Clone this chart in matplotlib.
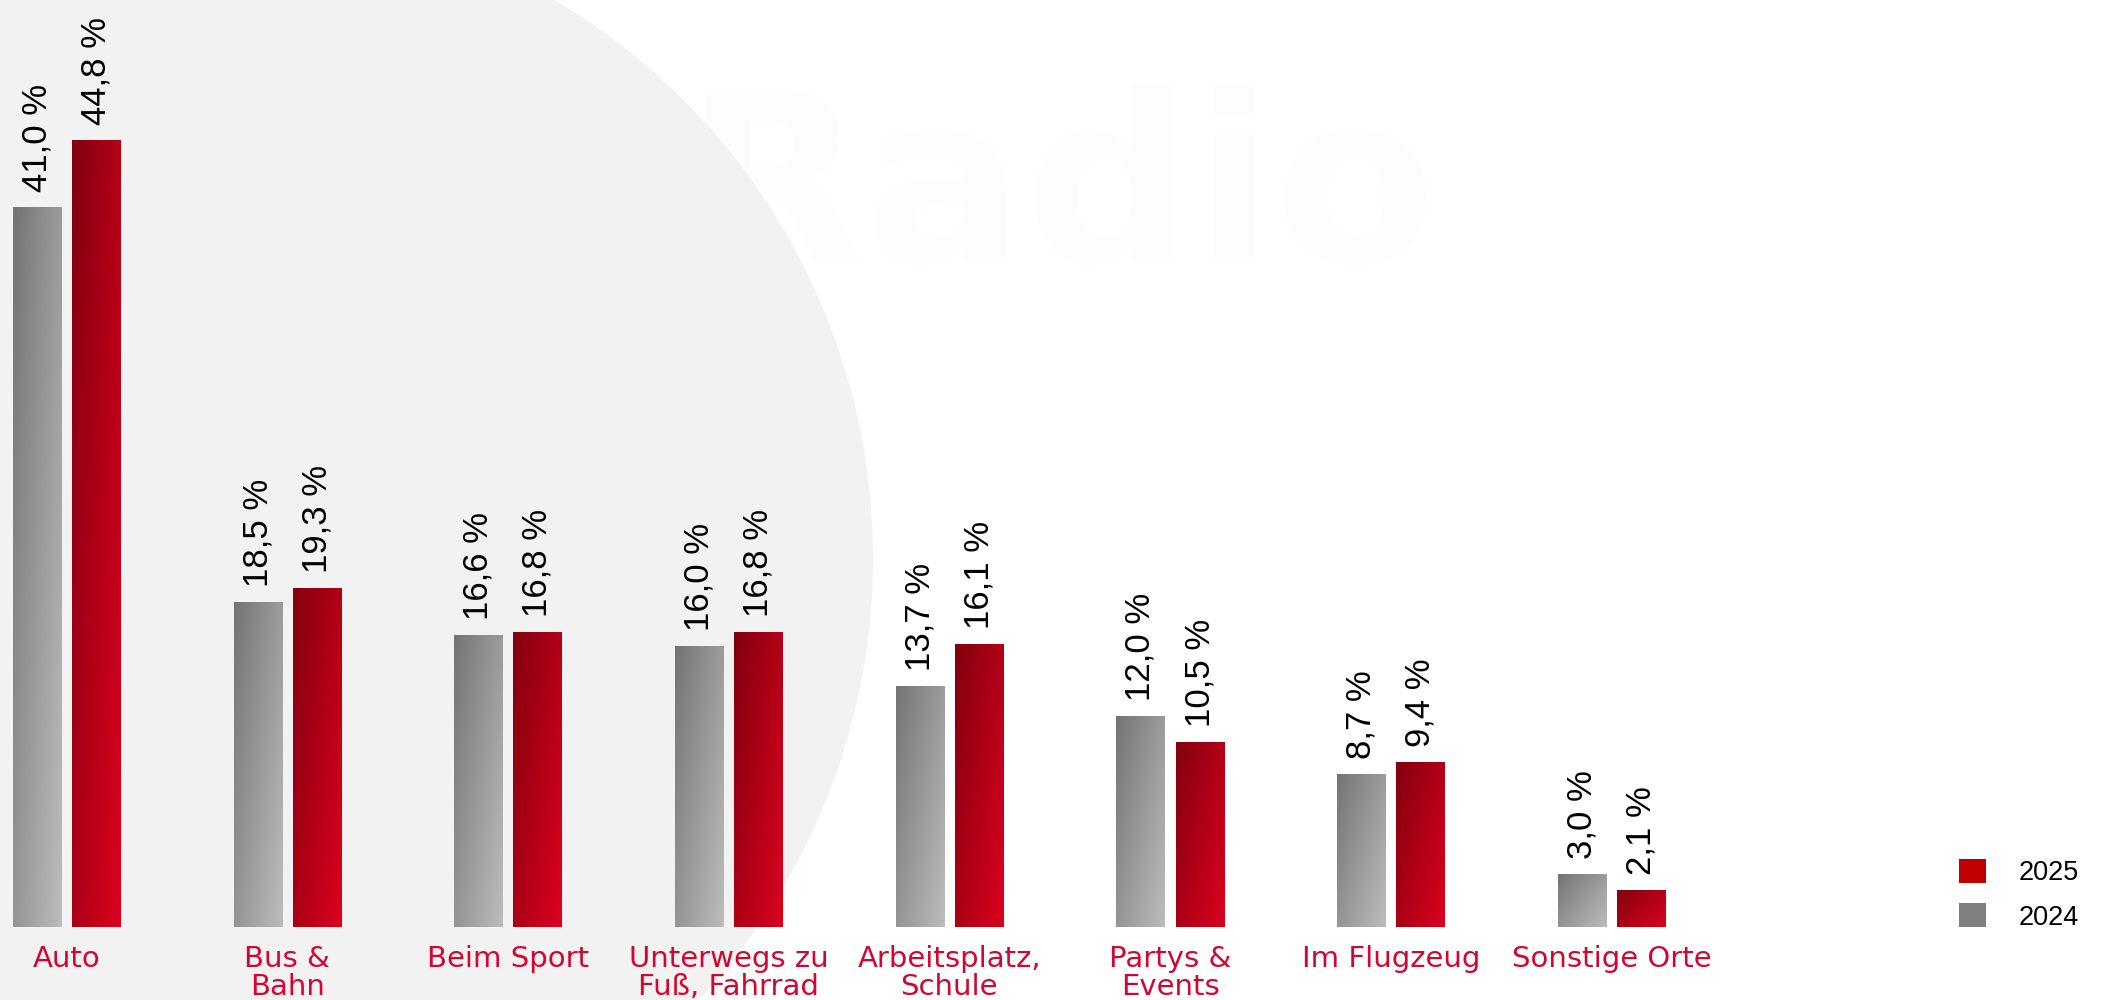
import matplotlib
matplotlib.use("Agg")
import matplotlib.pyplot as plt
import numpy as np
from matplotlib.patches import Ellipse, Patch
from matplotlib.colors import to_rgb

categories = ["Auto", "Bus &\nBahn", "Beim Sport", "Unterwegs zu\nFuß, Fahrrad",
              "Arbeitsplatz,\nSchule", "Partys &\nEvents", "Im Flugzeug", "Sonstige Orte"]
vals_2024 = [41.0, 18.5, 16.6, 16.0, 13.7, 12.0, 8.7, 3.0]
vals_2025 = [44.8, 19.3, 16.8, 16.8, 16.1, 10.5, 9.4, 2.1]
years = ["2024", "2025"]

W, H = 2106, 1000
fig = plt.figure(figsize=(W / 100, H / 100), dpi=100)
fig.patch.set_facecolor("white")

# very faint watermark + big grey circle in the background
fig.text(683 / W, 1 - 262 / H, "Radio", fontsize=170, fontweight="bold",
         color="#fdfdfd", family="DejaVu Sans", ha="left", va="baseline", zorder=-3)
fig.add_artist(Ellipse((225 / W, 1 - 558 / H), 1296 / W, 1296 / H,
                       transform=fig.transFigure, facecolor="#f2f2f2",
                       edgecolor="none", zorder=-2))

ax = fig.add_axes([0, 0, 1, 1])
ax.patch.set_visible(False)

x = np.arange(len(categories))
bw = 0.2175
off = 0.1337


def gradient_img(c0, c1, n=64):
    u = np.linspace(0, 1, n)[None, :]
    v = np.linspace(0, 1, n)[:, None]
    g = np.clip(0.55 * u + 0.45 * v, 0, 1)[..., None]
    return np.array(to_rgb(c0)) * (1 - g) + np.array(to_rgb(c1)) * g


grey_img = gradient_img("#747474", "#bcbcbc")
red_img = gradient_img("#82000f", "#dc001e")

bars24 = ax.bar(x - off, vals_2024, bw, color="#808080", zorder=1)
bars25 = ax.bar(x + off, vals_2025, bw, color="#c00000", zorder=1)

for bars, img in ((bars24, grey_img), (bars25, red_img)):
    for b in bars:
        x0, w, h = b.get_x(), b.get_width(), b.get_height()
        ax.imshow(img, extent=[x0, x0 + w, 0, h], origin="upper",
                  aspect="auto", interpolation="bilinear", zorder=2)

for bars, vals in ((bars24, vals_2024), (bars25, vals_2025)):
    for b, v in zip(bars, vals):
        ax.annotate(f"{v:.1f}".replace(".", ",") + " %",
                    (b.get_x() + b.get_width() / 2, v),
                    xytext=(0, 11), textcoords="offset points",
                    rotation=90, ha="center", va="bottom",
                    fontsize=25, family="Liberation Sans", color="black")

for xi, lab in zip(x, categories):
    ax.annotate(lab, (xi, 0), xytext=(0, -13), textcoords="offset points",
                ha="center", va="top", multialignment="center",
                fontsize=21, family="DejaVu Sans", color="#d4062f",
                linespacing=1.0)

ax.set_xlim(-66.5 / 220.7, (W - 66.5) / 220.7)
ax.set_ylim(-73 / 17.55, 927 / 17.55)
ax.axis("off")

handles = [Patch(facecolor="#c00000", label=years[1]),
           Patch(facecolor="#808080", label=years[0])]
leg = fig.legend(handles=handles, loc="upper left",
                 bbox_to_anchor=(1959 / W, 1 - 859 / H), frameon=False,
                 prop={"family": "Liberation Sans", "size": 19.5},
                 handlelength=1.0, handleheight=1.0, handletextpad=1.2,
                 labelspacing=0.62, borderpad=0, borderaxespad=0)

fig.savefig("out.png", dpi=100)
